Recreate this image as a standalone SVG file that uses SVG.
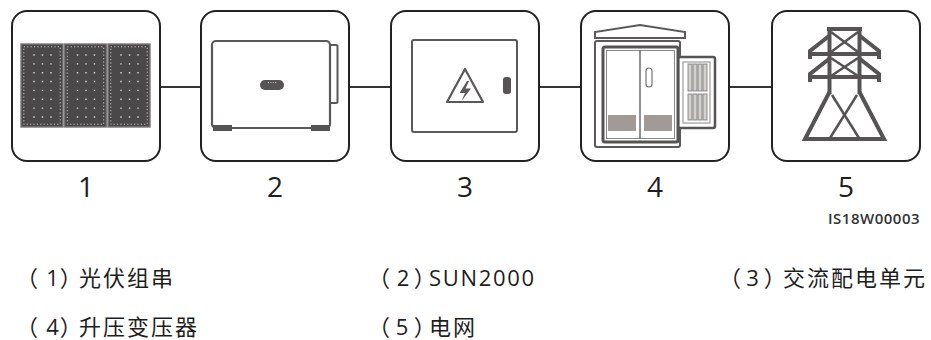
<svg xmlns="http://www.w3.org/2000/svg" width="931" height="340" viewBox="0 0 931 340">
  <defs>
    <style>
      .box { fill: #ffffff; stroke: #222222; stroke-width: 2; }
      .wire { stroke: #333333; stroke-width: 2; fill: none; }
      .ln { fill: none; stroke: #5a5858; stroke-linejoin: round; }
      .num { font-family: "Open Sans", "Liberation Sans", sans-serif; font-size: 28px; fill: #1e1e1e; text-anchor: middle; }
      .code { font-family: "Open Sans", "Liberation Sans", sans-serif; font-size: 15px; font-weight: 600; fill: #333333; letter-spacing: 0.5px; }
      .leg { font-family: "Open Sans", "Noto Sans CJK SC", sans-serif; font-size: 22px; fill: #1e1e1e; letter-spacing: 2px; }
      .lat { letter-spacing: 1.7px; }
      .close { font-feature-settings: "palt" 1; }
      .tower { fill: none; stroke: #555353; stroke-width: 4; stroke-linejoin: miter; stroke-linecap: butt; }
      .tower-thin { fill: none; stroke: #555353; stroke-width: 2.5; }
    </style>
    <!-- one PV module: dark cell field, dotted inner frame, dotted cell grid -->
    <g id="pv">
      <rect x="0" y="0" width="42" height="83" fill="#4a4848" stroke="#7a7878" stroke-width="1.4"/>
      <rect x="2.8" y="2.8" width="36.4" height="77.4" fill="none" stroke="#e8e8e8" stroke-width="0.8" stroke-dasharray="1.2 2.2"/>
      <g stroke="#dddddd" stroke-width="1.4" stroke-dasharray="1.4 7.45">
        <line x1="13" y1="10.3" x2="13" y2="76"/>
        <line x1="21.5" y1="10.3" x2="21.5" y2="76"/>
        <line x1="30" y1="10.3" x2="30" y2="76"/>
      </g>
    </g>
  </defs>

  <!-- connectors -->
  <g id="connectors">
    <line class="wire" x1="160" y1="87" x2="201" y2="87"/>
    <line class="wire" x1="349" y1="87" x2="391" y2="87"/>
    <line class="wire" x1="539" y1="87" x2="581" y2="87"/>
    <line class="wire" x1="729" y1="87" x2="772" y2="87"/>
  </g>

  <!-- 1: PV strings -->
  <g id="node-pv-string">
    <rect class="box" x="12" y="11" width="148" height="150" rx="15"/>
    <use href="#pv" x="21" y="44"/>
    <use href="#pv" x="64.5" y="44"/>
    <use href="#pv" x="108" y="44"/>
    <text class="num" x="86" y="197">1</text>
  </g>

  <!-- 2: inverter -->
  <g id="node-inverter">
    <rect class="box" x="201" y="11" width="148" height="150" rx="15"/>
    <rect x="330" y="45" width="7.5" height="58" rx="1.5" fill="#ffffff" stroke="#5a5858" stroke-width="2"/>
    <rect x="212" y="41" width="118" height="87" rx="4" fill="#ffffff" stroke="#5a5858" stroke-width="2.2"/>
    <rect x="213" y="125" width="19" height="6" fill="#555353"/>
    <rect x="311" y="125" width="19" height="6" fill="#555353"/>
    <rect x="260" y="80" width="24" height="10" rx="5" fill="#555353"/>
    <line x1="268" y1="82.6" x2="277" y2="82.6" stroke="#cccccc" stroke-width="1" stroke-dasharray="1 1.4"/>
    <text class="num" x="275" y="197">2</text>
  </g>

  <!-- 3: AC distribution unit -->
  <g id="node-ac-unit">
    <rect class="box" x="391" y="11" width="148" height="150" rx="15"/>
    <rect x="412" y="40" width="105" height="92" rx="2" fill="#ffffff" stroke="#5a5858" stroke-width="2"/>
    <polygon class="ln" points="465,69 447,102 483,102" stroke-width="2.2"/>
    <polygon points="467,81 459.5,93 465,93 461.5,101 471,88.5 465.5,88.5 469,81" fill="#5a5858"/>
    <rect x="503" y="77" width="8" height="17" rx="3" fill="#555353"/>
    <text class="num" x="465" y="197">3</text>
  </g>

  <!-- 4: step-up transformer -->
  <g id="node-transformer">
    <rect class="box" x="581" y="11" width="148" height="150" rx="15"/>
    <polygon points="595,38 595,32 640,25 685,32 685,38" fill="#ffffff" stroke="#5a5858" stroke-width="2"/>
    <rect x="595" y="41" width="85" height="106" rx="2" fill="#ffffff" stroke="#5a5858" stroke-width="2"/>
    <rect x="678" y="57" width="37" height="71" rx="2" fill="#ffffff" stroke="#555353" stroke-width="2.5"/>
    <rect x="683" y="62" width="27" height="61" fill="none" stroke="#888888" stroke-width="1"/>
    <g fill="#d4d0ce" stroke="#777575" stroke-width="0.8">
      <rect x="688" y="64" width="4" height="27"/>
      <rect x="693" y="64" width="4" height="27"/>
      <rect x="698" y="64" width="4" height="27"/>
      <rect x="703" y="64" width="4" height="27"/>
      <rect x="688" y="94" width="4" height="26"/>
      <rect x="693" y="94" width="4" height="26"/>
      <rect x="698" y="94" width="4" height="26"/>
      <rect x="703" y="94" width="4" height="26"/>
    </g>
    <rect x="603" y="47" width="75" height="95" rx="2" fill="#ffffff" stroke="#555353" stroke-width="3"/>
    <rect x="606.5" y="50.5" width="68" height="88" fill="none" stroke="#888888" stroke-width="1"/>
    <line x1="640" y1="50" x2="640" y2="139" stroke="#777575" stroke-width="1.6"/>
    <rect x="608" y="115" width="28" height="16" fill="#a19a97"/>
    <rect x="644" y="115" width="28" height="16" fill="#a19a97"/>
    <rect x="646" y="68" width="6" height="19" rx="3" fill="#ffffff" stroke="#777575" stroke-width="1.2"/>
    <text class="num" x="655" y="197">4</text>
  </g>

  <!-- 5: power grid -->
  <g id="node-grid">
    <rect class="box" x="772" y="11" width="148" height="150" rx="15"/>
    <!-- mast head -->
    <line class="tower" x1="827" y1="29" x2="862" y2="29"/>
    <line class="tower" x1="829.5" y1="27" x2="829.5" y2="94"/>
    <line class="tower" x1="859.5" y1="27" x2="859.5" y2="94"/>
    <line class="tower-thin" x1="831" y1="32" x2="858" y2="52"/>
    <line class="tower-thin" x1="858" y1="32" x2="831" y2="52"/>
    <line class="tower-thin" x1="831" y1="58" x2="858" y2="76"/>
    <line class="tower-thin" x1="858" y1="58" x2="831" y2="76"/>
    <!-- cross arms -->
    <polyline class="tower" points="829,36 810,51 810,59"/>
    <line class="tower" x1="808" y1="54" x2="881" y2="54"/>
    <polyline class="tower" points="860,36 879,51 879,59"/>
    <polyline class="tower" points="829,59 810,74 810,82"/>
    <line class="tower" x1="808" y1="77" x2="881" y2="77"/>
    <polyline class="tower" points="860,59 879,74 879,82"/>
    <!-- legs and base -->
    <polyline class="tower" points="829.5,92 805,139 884,139 859.5,92"/>
    <line class="tower-thin" x1="832" y1="95" x2="859" y2="138"/>
    <line class="tower-thin" x1="857" y1="95" x2="830" y2="138"/>
    <text class="num" x="846" y="197">5</text>
  </g>

  <text class="code" x="828" y="224">IS18W00003</text>

  <!-- legend: bracket, index and name placed individually -->
  <g id="legend">
    <text class="leg" y="286"><tspan x="16">（</tspan><tspan x="46.2">1</tspan><tspan class="close" x="60.5">）</tspan><tspan x="79">光伏组串</tspan></text>
    <text class="leg" y="286"><tspan x="368">（</tspan><tspan x="396.7">2</tspan><tspan class="close" x="414.5">）</tspan><tspan class="lat" x="429">SUN2000</tspan></text>
    <text class="leg" y="286"><tspan x="719">（</tspan><tspan x="746.2">3</tspan><tspan class="close" x="764.5">）</tspan><tspan x="783">交流配电单元</tspan></text>
    <text class="leg" y="335"><tspan x="16">（</tspan><tspan x="46.2">4</tspan><tspan class="close" x="60.5">）</tspan><tspan x="79">升压变压器</tspan></text>
    <text class="leg" y="335"><tspan x="368">（</tspan><tspan x="395.7">5</tspan><tspan class="close" x="414.5">）</tspan><tspan x="429">电网</tspan></text>
  </g>
</svg>
